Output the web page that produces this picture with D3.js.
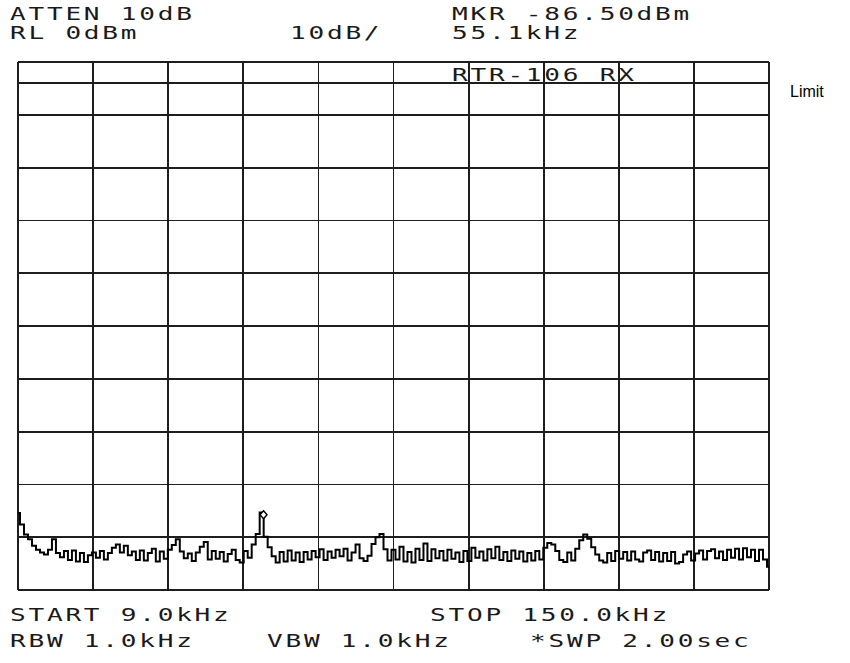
<!DOCTYPE html>
<html>
<head>
<meta charset="utf-8">
<script src="https://cdn.jsdelivr.net/npm/d3@7"></script>
<style>
  html, body { margin: 0; padding: 0; background: #fff; }
  svg { display: block; }
  .scr { font-family: "DejaVu Sans Mono", monospace; font-size: 18px; fill: #1a1a1a; }
  .grid line { stroke: #1e1e1e; stroke-width: 1.8; shape-rendering: crispEdges; }
</style>
</head>
<body>
<svg id="chart" width="850" height="663"></svg>
<script>
'use strict'

// analyzer settings
const startFreq = 9.0    // kHz
const stopFreq = 150.0   // kHz
const refLevel = 0       // dBm
const dbPerDiv = 10
const limitLevel = -4    // dBm, limit line
const markerFreq = 55.1  // kHz
const markerLevel = -86.5

// annotation text
const topLeft = ['ATTEN 10dB', 'RL 0dBm']
const scaleText = '10dB/'
const topRight = ['MKR -86.50dBm', '55.1kHz']
const titleText = 'RTR-106 RX'
const bottomLine1 = ['START 9.0kHz', 'STOP 150.0kHz']
const bottomLine2 = ['RBW 1.0kHz', 'VBW 1.0kHz', '*SWP 2.00sec']
const limitLabel = 'Limit'

// trace, dBm, equally spaced sweep points from start to stop
const trace = [
  -85.4, -87.6, -89.5, -90.4, -91.6, -92.4, -92.9, -93.3, -92.4, -90.4,
  -93.0, -93.8, -92.6, -94.3, -92.5, -94.6, -93.0, -94.7, -93.4, -92.9,
  -93.9, -92.6, -94.2, -93.0, -92.0, -91.4, -92.9, -91.6, -93.4, -92.7,
  -94.3, -92.5, -94.4, -93.0, -92.2, -94.6, -92.7, -94.1, -92.4, -91.5,
  -90.4, -92.7, -94.0, -93.1, -94.5, -92.9, -91.8, -90.9, -94.2, -92.6,
  -94.1, -92.8, -94.6, -93.2, -92.4, -94.3, -94.8, -92.6, -93.9, -91.4,
  -89.4, -85.3, -89.9, -91.9, -93.6, -94.8, -92.8, -94.6, -92.5, -94.4,
  -92.9, -94.7, -92.8, -94.2, -92.6, -93.8, -92.3, -94.3, -92.7, -93.9,
  -92.4, -93.6, -92.2, -94.4, -92.9, -91.4, -94.0, -94.5, -93.5, -91.3,
  -90.0, -89.4, -92.3, -94.4, -92.4, -94.2, -91.8, -94.6, -92.8, -94.8,
  -92.2, -94.3, -91.2, -94.5, -92.3, -94.0, -92.6, -94.4, -92.4, -94.1,
  -92.9, -94.7, -92.6, -94.5, -92.0, -93.9, -92.7, -94.4, -92.3, -94.0,
  -91.8, -94.3, -92.8, -94.5, -92.5, -94.1, -92.7, -94.6, -93.0, -94.4,
  -92.6, -94.2, -92.0, -91.1, -91.4, -92.6, -94.3, -94.7, -92.9, -94.4,
  -92.2, -90.6, -89.5, -90.3, -91.9, -93.3, -94.4, -94.8, -93.0, -94.5,
  -92.6, -94.1, -92.8, -94.4, -92.7, -94.2, -94.6, -92.9, -92.5, -94.3,
  -92.8, -94.6, -93.0, -94.5, -92.8, -95.0, -94.7, -93.3, -92.7, -94.4,
  -93.1, -92.5, -94.2, -92.6, -92.3, -94.0, -92.7, -94.3, -92.4, -93.9,
  -92.2, -94.2, -92.1, -93.8, -92.4, -94.5, -92.4, -94.2, -95.6
]

const svg = d3.select('#chart')
const plot = { left: 18, right: 769, top: 62, bottom: 590 }

const x = d3.scaleLinear().domain([startFreq, stopFreq]).range([plot.left, plot.right])
const y = d3.scaleLinear().domain([refLevel, refLevel - 10 * dbPerDiv]).range([plot.top, plot.bottom])

// graticule: 10 x 10 divisions
const grid = svg.append('g').classed('grid', true)
const fStep = (stopFreq - startFreq) / 10
grid.selectAll('line.v')
  .data(d3.range(11))
  .enter().append('line')
    .attr('x1', d => x(startFreq + d * fStep))
    .attr('x2', d => x(startFreq + d * fStep))
    .attr('y1', plot.top)
    .attr('y2', plot.bottom)
grid.selectAll('line.h')
  .data(d3.range(11))
  .enter().append('line')
    .attr('x1', plot.left)
    .attr('x2', plot.right)
    .attr('y1', d => y(refLevel - d * dbPerDiv))
    .attr('y2', d => y(refLevel - d * dbPerDiv))
// limit line
grid.append('line')
  .attr('x1', plot.left)
  .attr('x2', plot.right)
  .attr('y1', y(limitLevel))
  .attr('y2', y(limitLevel))

// trace (staircase, like the instrument's pixel display)
const tStep = (stopFreq - startFreq) / (trace.length - 1)
const line = d3.line()
  .x((d, i) => x(startFreq + i * tStep))
  .y(d => y(d))
  .curve(d3.curveStep)
svg.append('path')
  .datum(trace)
  .attr('d', line)
  .attr('fill', 'none')
  .attr('stroke', '#000')
  .attr('stroke-width', 2)

// marker (small diamond at the peak)
const mx = x(markerFreq), my = y(markerLevel) - 4
svg.append('path')
  .attr('d', `M${mx},${my - 4}L${mx + 3.5},${my}L${mx},${my + 4}L${mx - 3.5},${my}Z`)
  .attr('fill', '#fff')
  .attr('stroke', '#000')
  .attr('stroke-width', 1.4)

// screen text, stretched like the plotter font
function screenText (str, px, py) {
  svg.append('text')
    .classed('scr', true)
    .attr('transform', `translate(${px},${py}) scale(1.45,1)`)
    .attr('letter-spacing', 1.9)
    .text(str)
}
screenText(topLeft[0], 10, 20)
screenText(topLeft[1], 10, 39)
screenText(scaleText, 290, 39)
screenText(topRight[0], 452, 20)
screenText(topRight[1], 452, 39)
screenText(titleText, 452, 81)
screenText(bottomLine1[0], 10, 621)
screenText(bottomLine1[1], 430, 621)
screenText(bottomLine2[0], 10, 647)
screenText(bottomLine2[1], 267, 647)
screenText(bottomLine2[2], 530, 647)

svg.append('text')
  .attr('x', 790)
  .attr('y', 97)
  .attr('font-family', 'Liberation Sans, Arial, sans-serif')
  .attr('font-size', 16)
  .attr('fill', '#000')
  .text(limitLabel)
</script>
</body>
</html>
